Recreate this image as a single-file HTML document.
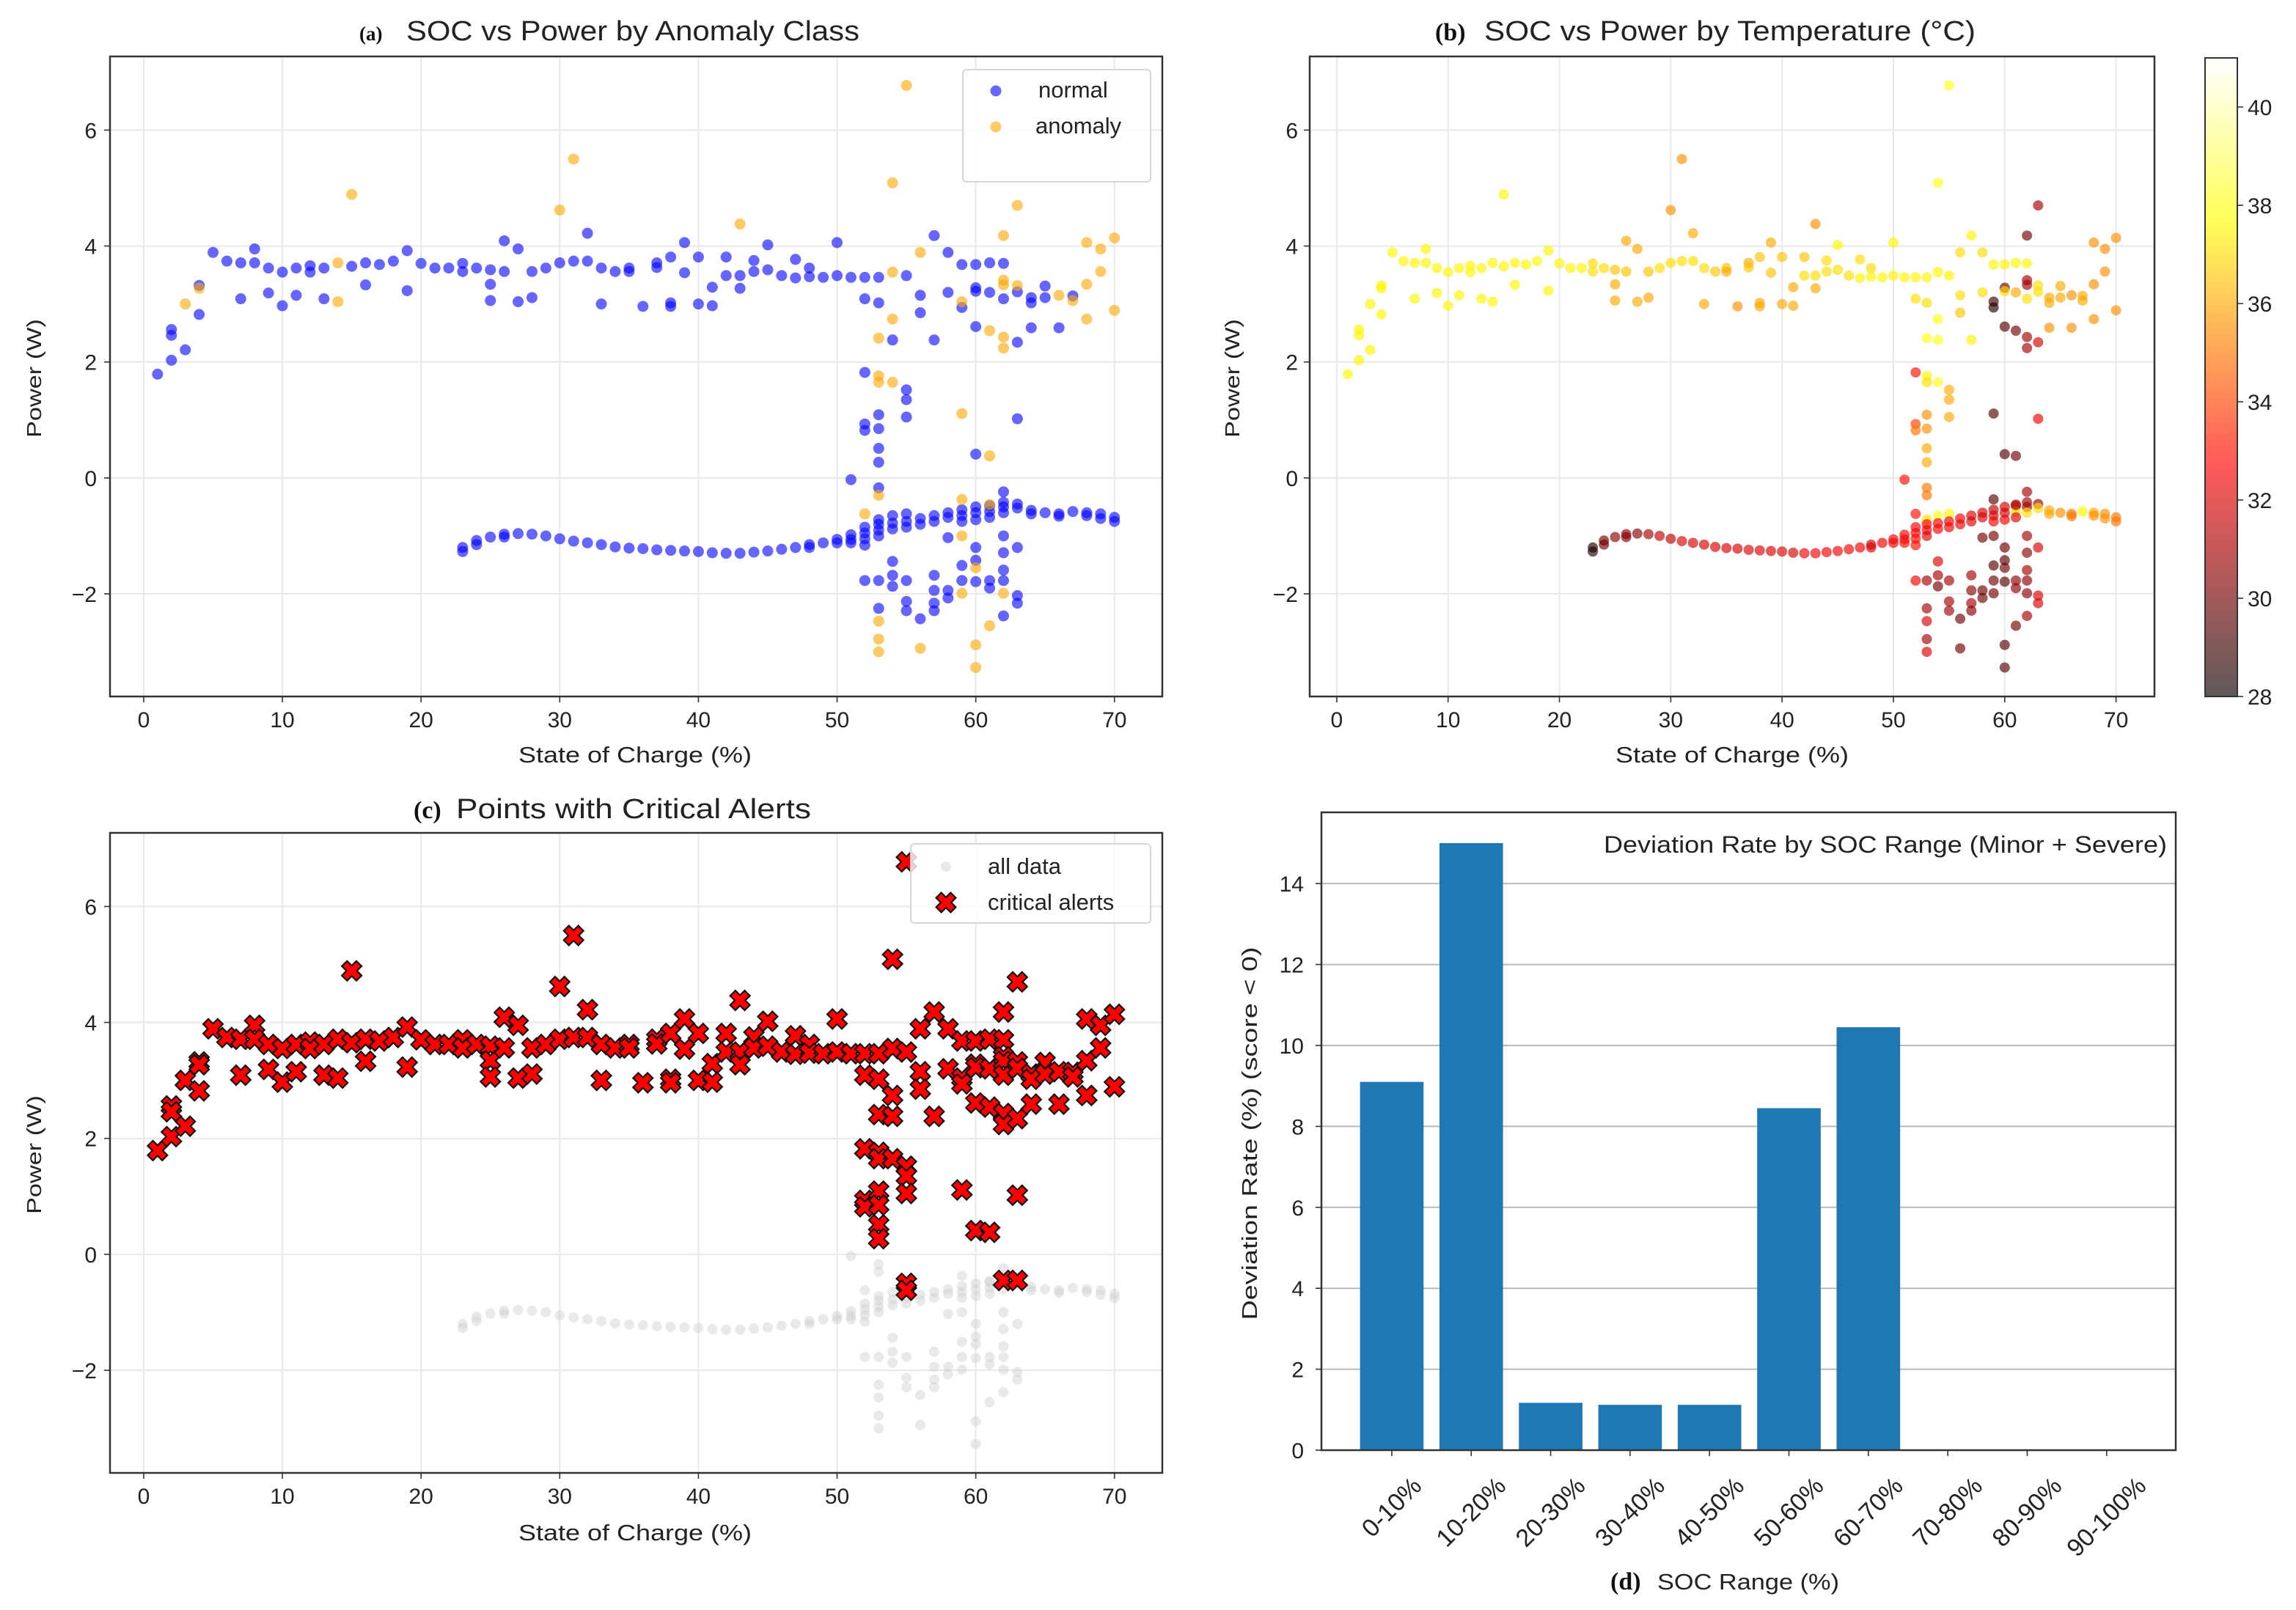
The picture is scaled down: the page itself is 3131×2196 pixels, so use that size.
<!DOCTYPE html>
<html><head><meta charset="utf-8">
<style>
html,body{margin:0;padding:0;background:#fff;}
svg{display:block;font-family:"Liberation Sans",sans-serif;}
</style></head>
<body>
<svg id="fig" xmlns="http://www.w3.org/2000/svg" width="3131" height="2196" viewBox="0 0 3131 2196">
<rect x="0" y="0" width="3131" height="2196" fill="#fff"/>
<g id="pa"></g>
<g id="pb"></g>
<g id="pc"></g>
<g id="pd"></g>
</svg>
<script>
// ---------- data: [soc %, power W, anomaly(0/1), temperature °C] ----------
const bandPts = [
[1,1.79,0,37.5],[2,2.56,0,37.5],[2,2.46,0,37.5],[2,2.03,0,37.5],[3,2.21,0,37.5],[3,3.0,1,37.5],[4,3.32,0,37.5],[4,3.27,1,37.5],[4,2.82,0,37.5],[5,3.89,0,37.5],[6,3.74,0,37.5],[7,3.71,0,37.5],[7,3.09,0,37.5],[8,3.95,0,37.5],[8,3.71,0,37.5],[9,3.62,0,37.5],[9,3.19,0,37.5],[10,3.55,0,37.5],[10,2.97,0,37.5],[11,3.62,0,37.5],[11,3.15,0,37.5],[12,3.66,0,37.5],[12,3.55,0,37.5],[13,3.62,0,37.5],[13,3.09,0,37.5],[14,3.71,1,37.5],[14,3.04,1,37.5],[15,4.89,1,37.5],[15,3.65,0,37.5],[16,3.71,0,37.5],[16,3.33,0,37.5],[17,3.68,0,37.5],[18,3.74,0,37.5],[19,3.92,0,37.5],[19,3.23,0,37.5],[20,3.70,0,37.5],[21,3.62,0,37.5],[22,3.62,0,37.5],[23,3.70,0,37],[23,3.56,0,37],[24,3.62,0,37],[25,3.59,0,36.5],[25,3.34,0,36],[25,3.06,0,36],[26,4.09,0,36],[26,3.56,0,36.5],[27,3.95,0,36],[27,3.04,0,36],[28,3.56,0,36.5],[28,3.11,0,36],[29,3.62,0,37],[30,4.62,1,35.5],[30,3.71,0,37],[31,5.50,1,35.5],[31,3.74,0,37],[32,4.22,0,36],[32,3.74,0,37],[33,3.62,0,37],[33,3.0,0,36],[34,3.56,0,36.5],[35,3.62,0,36.5],[35,3.56,0,36],[36,2.96,0,35.5],[37,3.71,0,36],[37,3.63,0,36.5],[38,3.81,0,36.5],[38,3.02,0,36],[38,2.96,0,36],[39,4.06,0,36],[39,3.54,0,36.5],[40,3.81,0,36.5],[40,3.0,0,36],[41,3.29,0,36],[41,2.97,0,36],[42,3.81,0,36.5],[42,3.49,0,37],[43,4.38,1,35.5],[43,3.49,0,37],[43,3.27,0,36],[44,3.75,0,37],[44,3.56,0,37],[45,4.02,0,37.5],[45,3.59,0,37],[46,3.49,0,37],[47,3.77,0,37],[47,3.45,0,37.5],[48,3.62,0,37],[48,3.47,0,37.5],[49,3.46,0,37.5],[50,4.06,0,37.5],[50,3.49,0,37.5],[51,3.46,0,37.5],[52,3.46,0,37.5],[52,3.09,0,37],[52,1.82,0,33],[52,0.93,0,34],[52,0.82,0,35],[53,3.46,0,37.5],[53,3.02,0,37],[53,2.41,1,38],[53,1.76,1,37.5],[53,1.65,1,37],[53,1.09,0,35.5],[53,0.85,0,35.5],[53,0.51,0,36],[53,0.27,0,36],[54,5.09,1,38],[54,3.55,1,37.5],[54,2.74,1,38],[54,2.38,0,38],[54,1.65,1,38],[55,6.77,1,38],[55,3.49,0,37.5],[55,1.52,0,36],[55,1.35,0,36],[55,1.05,0,36],[56,3.89,1,37],[56,3.15,0,37],[56,2.85,0,36.5],[57,4.18,0,37.5],[57,2.38,0,37.5],[58,3.89,0,37],[58,3.2,0,37],[59,3.68,0,37.5],[59,3.04,1,29],[59,2.94,0,28.5],[59,1.11,1,29.5],[60,3.68,0,37.5],[60,3.28,0,30],[60,3.22,0,37],[60,2.61,0,29.5],[60,0.41,0,29.5],[61,3.71,0,37.5],[61,3.2,0,36],[61,2.54,1,30],[61,0.38,1,30],[62,4.18,1,30],[62,3.70,0,37.5],[62,3.41,1,31],[62,3.33,1,31],[62,3.09,0,37],[62,2.43,1,31],[62,2.24,1,31],[63,4.70,1,31],[63,3.32,1,37],[63,3.21,0,37],[63,2.34,0,32],[63,1.02,0,32.5],[64,3.11,0,36],[64,3.02,0,36],[64,2.59,0,35.5],[65,3.31,0,36],[65,3.11,0,36],[66,3.15,1,35.5],[66,2.59,0,35.5],[67,3.14,0,36],[67,3.06,1,36],[68,4.06,1,35.5],[68,3.34,1,35.5],[68,2.74,1,35.5],[69,3.95,1,35.5],[69,3.56,1,35.5],[70,4.14,1,35.5],[70,2.89,1,35.5]
];
const curvePts = [
[23,-1.2,0,28.5],[23,-1.27,0,28.5],[24,-1.08,0,30],[24,-1.15,0,30],[25,-1.02,0,30.5],[26,-0.97,0,30.5],[26,-1.02,0,30.5],[27,-0.96,0,30.5],[28,-0.97,0,31],[29,-1.0,0,31.5],[30,-1.05,0,31.5],[31,-1.09,0,32],[32,-1.12,0,32],[33,-1.15,0,32],[34,-1.19,0,32],[35,-1.21,0,32],[36,-1.22,0,32],[37,-1.24,0,32],[38,-1.25,0,32],[39,-1.26,0,32],[40,-1.27,0,32],[41,-1.29,0,32],[42,-1.3,0,32.5],[43,-1.3,0,32.5],[44,-1.28,0,32.5],[45,-1.26,0,32.5],[46,-1.23,0,32.5],[47,-1.2,0,32.5],[48,-1.15,0,32],[48,-1.2,0,32],[49,-1.12,0,32.5],[50,-1.06,0,32.5],[50,-1.12,0,32.5],[51,-0.98,0,32.5],[51,-1.06,0,32.5],[51,-1.12,0,33],[52,-0.85,0,32.5],[52,-0.95,0,32.5],[52,-1.05,0,33],[53,-0.72,0,37],[53,-0.8,0,32.5],[53,-0.9,0,32.5],[53,-1.0,0,32],[54,-0.65,0,38],[54,-0.78,0,32.5],[54,-0.88,0,32.5],[55,-0.62,0,37.5],[55,-0.75,0,32.5],[55,-0.85,0,32.5],[56,-0.7,0,32.5],[56,-0.8,0,32.5],[57,-0.65,0,32],[57,-0.75,0,32],[58,-0.6,0,32],[58,-0.68,0,32],[59,-0.55,0,31.5],[59,-0.65,0,32],[59,-0.75,0,32.5],[60,-0.5,0,32],[60,-0.6,0,32],[60,-0.72,0,32.5],[61,-0.48,0,32],[61,-0.58,0,37],[61,-0.68,0,32],[62,-0.42,0,31],[62,-0.5,0,31],[62,-0.6,0,37],[63,-0.45,0,31],[63,-0.52,0,37],[64,-0.56,0,36],[64,-0.62,0,36],[65,-0.6,0,35.5],[66,-0.62,0,35],[66,-0.66,0,35],[67,-0.58,0,37.5],[68,-0.6,0,36],[68,-0.65,0,35.5],[69,-0.62,0,35.5],[69,-0.7,0,35.5],[70,-0.68,0,35],[70,-0.75,0,35]
];
const clusterPts = [
[51,-0.03,0,33],[52,-0.62,1,33],[52,-1.16,0,33],[52,-1.77,0,32.5],[53,-0.17,0,35],[53,-0.3,1,35],[53,-1.77,0,31],[53,-2.25,0,31],[53,-2.47,1,32],[53,-2.78,1,31],[53,-3.0,1,32],[54,-1.44,0,32],[54,-1.68,0,31],[54,-1.87,0,30],[55,-1.77,0,31],[55,-2.13,0,31],[55,-2.29,0,31],[56,-2.43,0,30],[56,-2.94,1,30],[57,-1.68,0,31],[57,-1.94,0,30.5],[57,-2.16,0,31],[57,-2.29,0,30.5],[58,-1.03,0,30],[58,-1.94,0,30],[58,-2.07,0,30],[59,-0.37,1,29.5],[59,-1.0,1,30],[59,-1.51,0,29.5],[59,-1.77,0,30],[59,-1.99,1,30],[60,-1.2,0,30],[60,-1.42,0,29.5],[60,-1.55,1,30],[60,-1.79,0,29.5],[60,-2.88,1,29.5],[60,-3.27,1,29.5],[61,-0.46,1,31],[61,-1.77,0,30.5],[61,-1.9,0,30.5],[61,-2.55,1,30],[62,-0.24,0,31],[62,-1.0,0,31],[62,-1.29,0,30.5],[62,-1.59,0,31],[62,-1.77,0,30.5],[62,-1.99,1,30.5],[62,-2.38,0,31],[63,-1.2,0,32],[63,-2.03,0,32],[63,-2.16,0,32]
];
// critical alerts: every point with power above threshold, plus these low-power alerts
const criticalThreshold = 0;
const criticalExtraSoc = [55, 55, 62, 63];
const criticalExtraPow = [-0.5, -0.62, -0.45, -0.45];
// panel (d)
const socRanges = ["0-10%","10-20%","20-30%","30-40%","40-50%","50-60%","60-70%","70-80%","80-90%","90-100%"];
const deviationRates = [9.1, 15.0, 1.17, 1.12, 1.12, 8.45, 10.45, 0, 0, 0];
const scatterXTicks = [0,10,20,30,40,50,60,70];
const scatterYTicks = [-2,0,2,4,6];
const barYTicks = [0,2,4,6,8,10,12,14];
const cbarTicks = [28,30,32,34,36,38,40];
const tempMin = 28, tempMax = 41;

const NS = "http://www.w3.org/2000/svg";
function el(tag, attrs, parent, text){
  const e = document.createElementNS(NS, tag);
  for (const k in attrs) e.setAttribute(k, attrs[k]);
  if (text !== undefined) e.textContent = text;
  if (parent) parent.appendChild(e);
  return e;
}
function lin(d0,d1,r0,r1){ return v => r0 + (v-d0)*(r1-r0)/(d1-d0); }
function hot(t){
  t = Math.max(0, Math.min(1, t));
  const r = Math.min(1, 0.0416 + t*(1-0.0416)/0.365);
  const g = Math.max(0, Math.min(1, (t-0.365)/0.381));
  const b = Math.max(0, Math.min(1, (t-0.746)/0.254));
  return "rgb(" + Math.round(r*255) + "," + Math.round(g*255) + "," + Math.round(b*255) + ")";
}
const allPts = bandPts.concat(curvePts, clusterPts);
const XD = [-2.43, 73.45], YD = [-3.77, 7.27];
const PR = 7.5;

function scatterAxes(g, L, R, T, B, showYLabels, yLabelX, tickLabelX){
  const sx = lin(XD[0], XD[1], L, R), sy = lin(YD[0], YD[1], B, T);
  const grid = el("g", {}, g);
  
  
  scatterXTicks.forEach(v => {
    el("line", {x1:sx(v), x2:sx(v), y1:T, y2:B, stroke:"#e8e8e8", "stroke-width":2}, grid);
    el("line", {x1:sx(v), x2:sx(v), y1:B, y2:B+8, stroke:"#333", "stroke-width":1.6}, g);
    const t = el("text", {x:sx(v), y:B+42, "text-anchor":"middle", "font-size":30, fill:"#222"}, g, String(v));
    
    
  });
  scatterYTicks.forEach(v => {
    el("line", {x1:L, x2:R, y1:sy(v), y2:sy(v), stroke:"#e8e8e8", "stroke-width":2}, grid);
    el("line", {x1:L-8, x2:L, y1:sy(v), y2:sy(v), stroke:"#333", "stroke-width":1.6}, g);
    const t = el("text", {x:tickLabelX, y:sy(v)+11, "text-anchor":"end", "font-size":30, fill:"#222"}, g, v<0 ? "\u2212"+Math.abs(v) : String(v));
    
    
  });
  return {sx, sy};
}
function frame(g, L, R, T, B){
  const f = el("rect", {x:L, y:T, width:R-L, height:B-T, fill:"none", stroke:"#333", "stroke-width":2.5}, g);
  
  
}
function title(g, x1, y, tag, txt, tagSize, txtLen, txtX){
  const a = el("text", {x:x1, y:y, "font-family":"Liberation Serif, serif", "font-weight":"bold", "font-size":tagSize, fill:"#111"}, g, tag);
  
  
  const t = el("text", {x:txtX, y:y, "font-size":38, fill:"#222", textLength:txtLen, lengthAdjust:"spacingAndGlyphs"}, g, txt);
  
  
}
function axisLabels(g, xc, xy, ylx, ylc, ylabel){
  const x = el("text", {x:xc, y:xy, "text-anchor":"middle", "font-size":31, fill:"#222", textLength:318, lengthAdjust:"spacingAndGlyphs"}, g, "State of Charge (%)");
  
  
  const y = el("text", {x:0, y:0, "text-anchor":"middle", "font-size":28, fill:"#222", transform:"translate("+ylx+","+ylc+") rotate(-90)", textLength:162, lengthAdjust:"spacingAndGlyphs"}, g, ylabel);
  
  
}

// ---------- Panel (a) ----------
(function(){
  const g = document.getElementById("pa");
  const L=150,R=1585,T=77,B=950;
  const {sx, sy} = scatterAxes(g, L, R, T, B, true, 46, 132);
  const pts = el("g", {}, g);
  
  
  [0,1].forEach(cls => {
    allPts.forEach(p => {
      if (p[2] !== cls) return;
      const c = el("circle", {cx:sx(p[0]), cy:sy(p[1]), r:PR, fill: cls ? "#ffa500" : "#0000ff", "fill-opacity":0.6}, pts);
      
      
    });
  });
  frame(g, L, R, T, B);
  title(g, 490, 55, "(a)", "SOC vs Power by Anomaly Class", 27, 618, 554);
  axisLabels(g, 866, 1040, 56, 516, "Power (W)");
  const lg = el("g", {}, g);
  
  
  el("rect", {x:1313, y:95, width:256, height:153, rx:5, fill:"#fff", "fill-opacity":0.85, stroke:"#d6d6d6", "stroke-width":2}, lg);
  const e1 = el("circle", {cx:1358, cy:124, r:PR, fill:"#0000ff", "fill-opacity":0.6}, lg);
  
  
  const t1 = el("text", {x:1416, y:133, "font-size":31, fill:"#222"}, lg, "normal");
  
  
  const e2 = el("circle", {cx:1358, cy:173, r:PR, fill:"#ffa500", "fill-opacity":0.6}, lg);
  
  
  const t2 = el("text", {x:1412, y:182, "font-size":31, fill:"#222"}, lg, "anomaly");
  
  
})();

// ---------- Panel (b) ----------
(function(){
  const g = document.getElementById("pb");
  const L=1786,R=2938,T=77,B=950;
  const {sx, sy} = scatterAxes(g, L, R, T, B, true, 1690, 1770);
  const tc = lin(tempMin, tempMax, 0, 1);
  const pts = el("g", {}, g);
  
  
  allPts.forEach(p => {
    const c = el("circle", {cx:sx(p[0]), cy:sy(p[1]), r:7, fill:hot(tc(p[3])), "fill-opacity":0.65}, pts);
    
    
  });
  frame(g, L, R, T, B);
  title(g, 1957, 55, "(b)", "SOC vs Power by Temperature (\u00B0C)", 34, 670, 2024);
  axisLabels(g, 2362, 1040, 1690, 516, "Power (W)");
  const cb = el("g", {}, g);
  
  
  const defs = el("defs", {}, cb);
  const grad = el("linearGradient", {id:"hotg", x1:0, y1:1, x2:0, y2:0}, defs);
  for (let i=0;i<=40;i++){ el("stop", {offset:(i/40), "stop-color":hot(i/40), "stop-opacity":0.65}, grad); }
  const cL=3007, cR=3051, cT=79, cB=950;
  el("rect", {x:cL, y:cT, width:cR-cL, height:cB-cT, fill:"url(#hotg)", stroke:"#333", "stroke-width":2}, cb);
  const cy = lin(tempMin, tempMax, cB, cT);
  cbarTicks.forEach(v => {
    el("line", {x1:cR, x2:cR+8, y1:cy(v), y2:cy(v), stroke:"#333", "stroke-width":1.6}, cb);
    const t = el("text", {x:cR+14, y:cy(v)+11, "font-size":30, fill:"#222"}, cb, String(v));
    
    
  });
})();

// ---------- Panel (c) ----------
(function(){
  const g = document.getElementById("pc");
  const L=150,R=1585,T=1136,B=2009;
  const {sx, sy} = scatterAxes(g, L, R, T, B, true, 46, 132);
  const gp = el("g", {}, g);
  
  
  allPts.forEach(p => {
    const c = el("circle", {cx:sx(p[0]), cy:sy(p[1]), r:7, fill:"#cfcfcf", "fill-opacity":0.45}, gp);
    
    
  });
  function xPath(cx, cy, s, w){
    const base = [[-w,-s],[w,-s],[w,-w],[s,-w],[s,w],[w,w],[w,s],[-w,s],[-w,w],[-s,w],[-s,-w],[-w,-w]];
    const c = Math.SQRT1_2;
    return "M" + base.map(q => (cx + (q[0]-q[1])*c).toFixed(1) + "," + (cy + (q[0]+q[1])*c).toFixed(1)).join("L") + "Z";
  }
  const gc = el("g", {}, g);
  
  
  const crit = allPts.filter(p => p[1] > criticalThreshold).map(p => [p[0], p[1]]);
  criticalExtraSoc.forEach((s,i) => crit.push([s, criticalExtraPow[i]]));
  crit.forEach(p => {
    const m = el("path", {d:xPath(sx(p[0]), sy(p[1]), 14, 5), fill:"#ff0000", stroke:"#111", "stroke-width":2.2, "stroke-linejoin":"miter"}, gc);
    
    
  });
  frame(g, L, R, T, B);
  title(g, 564, 1116, "(c)", "Points with Critical Alerts", 34, 484, 622);
  axisLabels(g, 866, 2101, 56, 1575, "Power (W)");
  const lg = el("g", {}, g);
  
  
  el("rect", {x:1242, y:1151, width:327, height:108, rx:5, fill:"#fff", "fill-opacity":0.8, stroke:"#d6d6d6", "stroke-width":2}, lg);
  const m1 = el("circle", {cx:1290, cy:1182, r:7, fill:"#cfcfcf", "fill-opacity":0.45}, lg);
  
  
  const t1 = el("text", {x:1347, y:1192, "font-size":31, fill:"#222"}, lg, "all data");
  
  
  const m2 = el("path", {d:xPath(1290, 1231, 14, 5), fill:"#ff0000", stroke:"#111", "stroke-width":2.2}, lg);
  
  
  const t2 = el("text", {x:1347, y:1241, "font-size":31, fill:"#222"}, lg, "critical alerts");
  
  
})();

// ---------- Panel (d) ----------
(function(){
  const g = document.getElementById("pd");
  const L=1802,R=2967,T=1108,B=1978;
  const sx = lin(-0.886, 9.87, L, R), sy = lin(0, 15.76, B, T);
  const bw = 0.8*(sx(1)-sx(0));
  barYTicks.forEach(v => {
    if (v>0) el("line", {x1:L, x2:R, y1:sy(v), y2:sy(v), stroke:"#b8b8b8", "stroke-width":2}, g);
    el("line", {x1:L-8, x2:L, y1:sy(v), y2:sy(v), stroke:"#333", "stroke-width":1.6}, g);
    const t = el("text", {x:1778, y:sy(v)+11, "text-anchor":"end", "font-size":30, fill:"#222"}, g, String(v));
    
    
  });
  const bars = el("g", {}, g);
  
  
  deviationRates.forEach((v,i) => {
    const b = el("rect", {x:sx(i)-bw/2, y:sy(v), width:bw, height:Math.max(0, B-sy(v)), fill:"#1f77b4"}, bars);
    
    
  });
  socRanges.forEach((lab,i) => {
    el("line", {x1:sx(i), x2:sx(i), y1:B, y2:B+8, stroke:"#333", "stroke-width":1.6}, g);
    const t = el("text", {x:0, y:0, "text-anchor":"middle", "font-size":34, fill:"#222", "dominant-baseline":"central"}, g, lab);
    
    
    let w = lab.length*19;
    try { w = t.getComputedTextLength() || w; } catch(e) {}
    const half = (w*0.7071 + 26*0.7071)/2;
    t.setAttribute("transform", "translate("+sx(i)+","+(B+34+half)+") rotate(-45)");
  });
  frame(g, L, R, T, B);
  const ann = el("text", {x:2955, y:1163, "text-anchor":"end", "font-size":32, fill:"#222", textLength:768, lengthAdjust:"spacingAndGlyphs"}, g, "Deviation Rate by SOC Range (Minor + Severe)");
  
  
  const yl = el("text", {x:0, y:0, "text-anchor":"middle", "font-size":29, fill:"#222", transform:"translate(1714,1546) rotate(-90)", textLength:509, lengthAdjust:"spacingAndGlyphs"}, g, "Deviation Rate (%)  (score < 0)");
  
  
  const dl = el("text", {x:2196, y:2168, "font-family":"Liberation Serif, serif", "font-weight":"bold", "font-size":34, fill:"#111"}, g, "(d)");
  
  
  const xl = el("text", {x:2260, y:2168, "font-size":31, fill:"#222", textLength:248, lengthAdjust:"spacingAndGlyphs"}, g, "SOC Range (%)");
  
  
})();
</script>
</body></html>
